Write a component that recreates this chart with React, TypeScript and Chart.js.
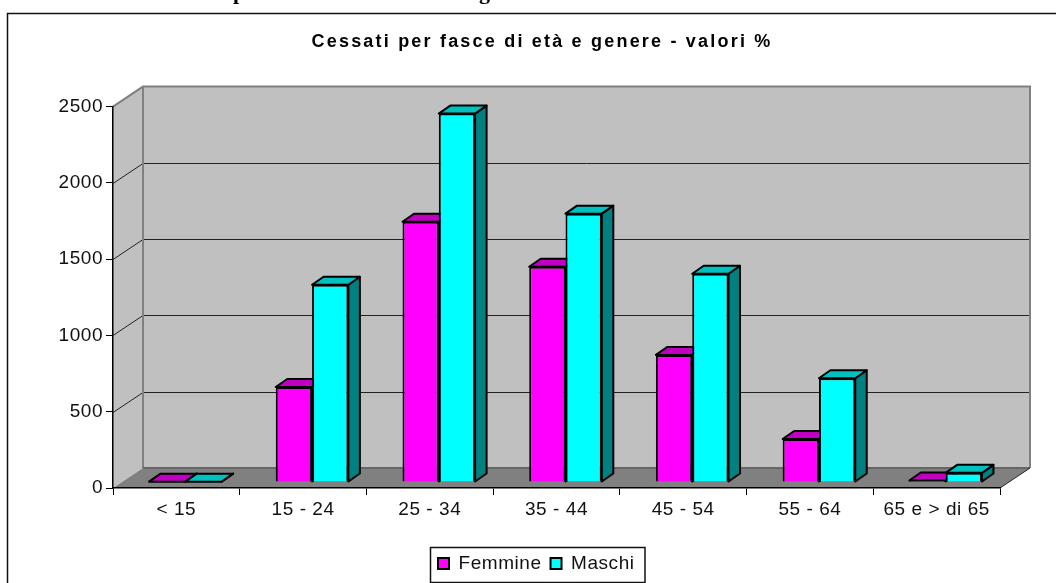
import React, { useEffect, useRef } from "react";
import { Chart, registerables } from "chart.js";

Chart.register(...registerables);

const categories = ["< 15", "15 - 24", "25 - 34", "35 - 44", "45 - 54", "55 - 64", "65 e > di 65"];
const femmine = [2, 623, 1706, 1411, 833, 282, 10];
const maschi = [2, 1293, 2415, 1759, 1365, 680, 60];
const yTicks = [0, 500, 1000, 1500, 2000, 2500];
const chartTitle = "Cessati per fasce di età e genere - valori %";
const FONT = "'Liberation Sans', Arial, sans-serif";
const SERIF = "'Liberation Serif', serif";

const WALL = { dx: 30, dy: -20 };
const BAR_PLANE = { dx: 9, dy: -6 };
const BAR_DEPTH = { dx: 11.5, dy: -8 };

const poly = (ctx: CanvasRenderingContext2D, pts: number[][], fill: string | null, stroke: string | null, lw = 1) => {
  ctx.beginPath();
  pts.forEach((p, i) => (i ? ctx.lineTo(p[0], p[1]) : ctx.moveTo(p[0], p[1])));
  ctx.closePath();
  if (fill) { ctx.fillStyle = fill; ctx.fill(); }
  if (stroke) { ctx.strokeStyle = stroke; ctx.lineWidth = lw; ctx.lineJoin = "round"; ctx.stroke(); }
};

const scene = {
  id: "scene",
  afterLayout(chart: any) {
    const t = chart.titleBlock;
    t.left = 28; t.right = 1056; t.top = 31;
    if (!t.__wrapped) {
      const d = t.draw;
      t.draw = function (...a: any[]) {
        chart.ctx.save();
        chart.ctx.letterSpacing = "2.2px";
        d.apply(this, a);
        chart.ctx.restore();
      };
      t.__wrapped = true;
    }
    const l = chart.legend;
    l.left = 429; l.right = 660; l.top = 545;
  },
  beforeDraw(chart: any) {
    const { ctx, chartArea: a, scales } = chart;
    const { dx, dy } = WALL;
    const y = scales.y;
    ctx.letterSpacing = "0px";
    ctx.save();
    // clipped heading above the chart frame
    ctx.fillStyle = "#000";
    ctx.font = `bold 22px ${SERIF}`;
    ctx.textBaseline = "alphabetic";
    ctx.fillText("p", 233, -1);
    ctx.fillText("g", 479, -1);
    // frame
    ctx.strokeStyle = "#111";
    ctx.lineWidth = 1.5;
    ctx.beginPath();
    ctx.moveTo(7.5, 583);
    ctx.lineTo(7.5, 13.5);
    ctx.lineTo(1056, 13.5);
    ctx.stroke();
    // walls and floor
    poly(ctx, [[a.left + dx, a.top + dy], [a.right + dx, a.top + dy], [a.right + dx, a.bottom + dy], [a.left + dx, a.bottom + dy]], "#c0c0c0", null);
    poly(ctx, [[a.left, a.top], [a.left + dx, a.top + dy], [a.left + dx, a.bottom + dy], [a.left, a.bottom]], "#c0c0c0", null);
    poly(ctx, [[a.left, a.bottom], [a.left + dx, a.bottom + dy], [a.right + dx, a.bottom + dy], [a.right, a.bottom]], "#808080", null);
    yTicks.slice(1, -1).forEach((v) => {
      const py = Math.round(y.getPixelForValue(v)) + 0.5;
      ctx.strokeStyle = "#222";
      ctx.lineWidth = 1;
      ctx.beginPath();
      ctx.moveTo(a.left, py);
      ctx.lineTo(a.left + dx, py + dy);
      ctx.lineTo(a.right + dx, py + dy);
      ctx.stroke();
    });
    ctx.strokeStyle = "#808080";
    ctx.lineWidth = 2;
    ctx.beginPath();
    ctx.moveTo(a.left, a.top);
    ctx.lineTo(a.left + dx, a.top + dy);
    ctx.lineTo(a.right + dx, a.top + dy);
    ctx.lineTo(a.right + dx, a.bottom + dy);
    ctx.moveTo(a.left + dx, a.top + dy);
    ctx.lineTo(a.left + dx, a.bottom + dy);
    ctx.stroke();
    ctx.strokeStyle = "#666";
    ctx.beginPath();
    ctx.moveTo(a.left + dx, a.bottom + dy);
    ctx.lineTo(a.right + dx, a.bottom + dy);
    ctx.stroke();
    ctx.strokeStyle = "#222";
    ctx.lineWidth = 1;
    ctx.beginPath();
    ctx.moveTo(a.right, a.bottom);
    ctx.lineTo(a.right + dx, a.bottom + dy);
    ctx.stroke();
    ctx.restore();
    ctx.letterSpacing = "0.55px";
  },
  beforeDatasetsDraw(chart: any) {
    const { ctx } = chart;
    ctx.save();
    ctx.translate(BAR_PLANE.dx, BAR_PLANE.dy);
    [0, 1].forEach((index) => {
      const meta = chart.getDatasetMeta(index);
      const top = index === 0 ? "#c000c0" : "#00c0c0";
      const side = index === 0 ? "#800080" : "#008080";
      meta.data.forEach((el: any) => {
        const p = el.getProps(["x", "y", "base", "width"], true);
        const l = p.x - p.width / 2;
        const r = p.x + p.width / 2;
        const { dx, dy } = BAR_DEPTH;
        poly(ctx, [[r, p.y], [r + dx, p.y + dy], [r + dx, p.base + dy], [r, p.base]], side, "#000", 2);
        poly(ctx, [[l, p.y], [l + dx, p.y + dy], [r + dx, p.y + dy], [r, p.y]], top, "#000", 2);
      });
    });
    ctx.restore();
  },
  beforeDatasetDraw(chart: any) {
    chart.ctx.save();
    chart.ctx.translate(BAR_PLANE.dx, BAR_PLANE.dy);
  },
  afterDatasetDraw(chart: any) {
    chart.ctx.restore();
  },
  afterDraw(chart: any) {
    const { ctx } = chart;
    ctx.save();
    ctx.strokeStyle = "#111";
    ctx.lineWidth = 1.5;
    ctx.strokeRect(430.5, 547.5, 214.5, 35);
    ctx.restore();
  },
};

export default function App() {
  const ref = useRef<HTMLCanvasElement>(null);
  useEffect(() => {
    const chart = new Chart(ref.current!, {
      type: "bar",
      data: {
        labels: categories,
        datasets: [
          { label: "Femmine", data: femmine, backgroundColor: "#ff00ff", borderColor: "#000", borderWidth: 2, categoryPercentage: 0.573, barPercentage: 1 },
          { label: "Maschi", data: maschi, backgroundColor: "#00ffff", borderColor: "#000", borderWidth: 2, categoryPercentage: 0.573, barPercentage: 1 },
        ],
      },
      options: {
        animation: false,
        responsive: false,
        layout: { padding: { top: 85, left: 0, right: 56, bottom: 0 } },
        scales: {
          x: {
            grid: { display: true, drawOnChartArea: false, tickLength: 7, color: "#000", offset: true },
            border: { display: true, color: "#000", width: 1.5 },
            ticks: { color: "#111", font: { family: FONT, size: 19 }, padding: 3, maxRotation: 0, autoSkip: false },
            afterFit(s: any) { s.height = 95 - (s.chart.legend?.height || 0); },
          },
          y: {
            min: 0,
            max: 2500,
            afterBuildTicks(s: any) { s.ticks = yTicks.map((value) => ({ value })); },
            grid: { display: true, drawOnChartArea: false, tickLength: 7, color: "#000" },
            border: { display: true, color: "#000", width: 1.5 },
            ticks: { color: "#111", font: { family: FONT, size: 19 }, padding: 3, callback: (v: any) => String(v) },
            afterFit(s: any) { s.width = 113; },
          },
        },
        plugins: {
          title: { display: true, text: chartTitle, color: "#000", font: { family: FONT, size: 18, weight: "bold" }, padding: 0 },
          legend: {
            position: "bottom",
            align: "start",
            labels: { boxWidth: 11, boxHeight: 11, padding: 9, color: "#111", font: { family: FONT, size: 19 },
              generateLabels(c: any) {
                return c.data.datasets.map((d: any, i: number) => ({ text: d.label, fillStyle: d.backgroundColor, strokeStyle: "#000", lineWidth: 2, datasetIndex: i, fontColor: "#111" }));
              } },
          },
          tooltip: { enabled: false },
        },
      },
      plugins: [scene],
    } as any);
    return () => chart.destroy();
  }, []);
  return <canvas ref={ref} width={1056} height={583} style={{ position: "fixed", left: 0, top: 0, display: "block", background: "#fff" }} />;
}
